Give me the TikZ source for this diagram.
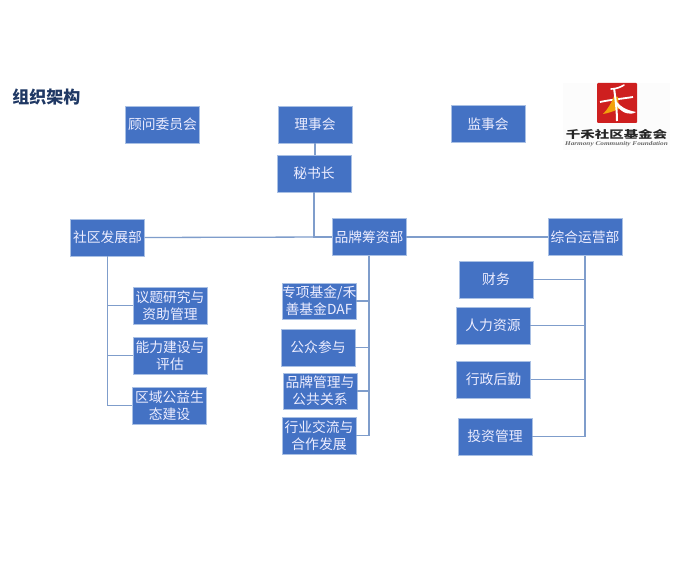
\documentclass[tikz,border=0pt]{standalone}
\usepackage{fontspec}
\setmainfont{Noto Sans CJK SC}
\newfontfamily\latinserif{Liberation Serif}
\definecolor{boxblue}{HTML}{4472C4}
\definecolor{boxedge}{HTML}{A9C0E4}
\definecolor{linkblue}{HTML}{7F9DCB}
\definecolor{titleblue}{HTML}{1F3864}
\definecolor{sealred}{HTML}{CE1F1F}
\definecolor{sealgold}{HTML}{F2A20C}
\tikzset{
  x=1pt,y=-1pt,
  orgbox/.style={fill=boxblue,draw=boxedge,line width=.4pt,text=white!93!blue,font=\fontsize{13.8}{16.8}\selectfont,
    minimum width=74pt,minimum height=37pt,inner sep=0pt,align=center,text width=74pt},
  link/.style={draw=linkblue,line width=1.3pt},
}
\begin{document}
\begin{tikzpicture}
\useasboundingbox (0,0) rectangle (680,564);
\fill[white] (0,0) rectangle (680,564);
\node[font=\fontsize{17}{20}\selectfont\bfseries,text=titleblue,inner sep=0pt] (title) at (46.5,97) {组织架构};
% top row
\node[orgbox] (gw) at (162.5,124.5) {顾问委员会};
\node[orgbox] (ls) at (315,124.5) {\raisebox{1.5pt}{理事会}};
\node[orgbox] (js) at (488,124) {\raisebox{1pt}{监事会}};
\node[orgbox] (ms) at (314,173.5) {秘书长};
% departments
\node[orgbox] (sq) at (107.5,237.5) {社区发展部};
\node[orgbox] (pp) at (369,237) {品牌筹资部};
\node[orgbox] (zh) at (585,237) {综合运营部};
% community
\node[orgbox] (a1) at (170,305.5) {议题研究与\\资助管理};
\node[orgbox] (a2) at (170,355.5) {能力建设与\\评估};
\node[orgbox] (a3) at (169.5,405.5) {区域公益生\\态建设};
% brand
\node[orgbox,minimum height=36pt] (b1) at (319,301) {专项基金/禾\\善基金DAF};
\node[orgbox] (b2) at (318,347.5) {公众参与};
\node[orgbox,minimum height=36pt] (b3) at (320,391) {品牌管理与\\公共关系};
\node[orgbox] (b4) at (319,435.5) {行业交流与\\合作发展};
% operations
\node[orgbox] (c1) at (496,279.5) {财务};
\node[orgbox] (c2) at (493,325.5) {人力资源};
\node[orgbox] (c3) at (493.5,379.5) {行政后勤};
\node[orgbox] (c4) at (495,436.5) {投资管理};
% connectors
\draw[link] (ls.south) -- (ls.south |- ms.north);
\draw[link] (ms.south) |- (pp.west);
\draw[link] (sq.east) -- (pp.west);
\draw[link] (pp.east) -- (zh.west);
\foreach \n in {a1,a2,a3} \draw[link] (\n.west) -| (sq.south);
\foreach \n in {b1,b2,b3,b4} \draw[link] (\n.east) -| (pp.south);
\foreach \n in {c1,c2,c3,c4} \draw[link] (\n.east) -| (zh.south);
% logo
\fill[black!1] (563,83) rectangle (670,150);
\fill[sealred,rounded corners=1pt] (597,83) rectangle (637,123);
\draw[white,line width=1.6pt,line cap=round] (611,89) .. controls (616,89) and (621,87) .. (624,85);
\draw[white,line width=1.8pt] (600,102) .. controls (609,100) and (620,99) .. (633,97);
\fill[sealgold] (603,114) .. controls (608,109) and (612,102) .. (614,96) -- (618,97) -- (619,109) .. controls (614,111) and (609,113) .. (603,114) -- cycle;
\draw[white,line width=2pt] (614,88) .. controls (615,95) and (617,110) .. (617,121);
\fill[white] (617,102) .. controls (621,107) and (626,110) .. (636,112) .. controls (630,116) and (622,113) .. (617,106) -- cycle;
\node[font=\fontsize{10.5}{12}\selectfont\bfseries,text=black!85,inner sep=0pt,xscale=1.38] (logoname) at (616.5,134.5) {千禾社区基金会};
\node[font=\fontsize{5.8}{6}\selectfont\latinserif\bfseries\itshape,text=black!60,inner sep=0pt,xscale=1.25] (logoen) at (616.5,144) {Harmony Community Foundation};
\end{tikzpicture}
\end{document}
